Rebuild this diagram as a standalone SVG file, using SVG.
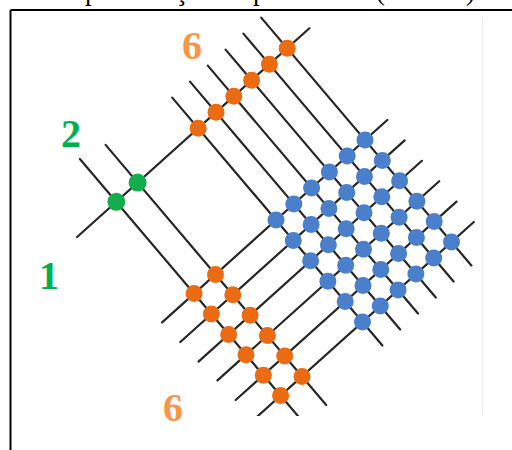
<svg xmlns="http://www.w3.org/2000/svg" width="512" height="450" viewBox="0 0 512 450">
<defs>
<style>
.ln{stroke:#262626;stroke-width:2.2;stroke-linecap:round;fill:none}
.b{fill:#4a7fcb}
.o{fill:#ea6b12}
.g{fill:#14ad4b}
.b circle,.o circle{r:8.5px}
.lab{font-family:"Liberation Serif","Times New Roman",serif;font-weight:bold;font-size:40px;text-anchor:middle}
.title{font-family:"Liberation Serif","Times New Roman",serif;font-size:27px}
</style>
<clipPath id="pic"><rect x="12" y="12" width="470" height="404"/></clipPath>
</defs>
<rect width="512" height="450" fill="#fff"/>
<text class="title" x="55" y="-0.5">Representação do produto de (16 x 26)</text>
<path d="M10.5,10 H512 M10.5,10 V450" stroke="#000" stroke-width="2" fill="none"/>
<line x1="482.5" y1="18" x2="482.5" y2="415" stroke="#ececec" stroke-width="1"/>
<g id="connectors" clip-path="url(#pic)">
<line class="ln" x1="77.1" y1="237" x2="309.4" y2="28.2"/>
<line class="ln" x1="162.1" y1="322.4" x2="387.3" y2="120"/>
<line class="ln" x1="180.3" y1="342" x2="404.6" y2="140.4"/>
<line class="ln" x1="198.5" y1="361.6" x2="421.9" y2="160.8"/>
<line class="ln" x1="217.5" y1="380.4" x2="439.2" y2="181.2"/>
<line class="ln" x1="235.7" y1="400" x2="456.5" y2="201.6"/>
<line class="ln" x1="253.9" y1="419.6" x2="473.8" y2="222"/>
<line class="ln" x1="79.9" y1="159" x2="306.6" y2="426.2"/>
<line class="ln" x1="105.6" y1="144.9" x2="326.2" y2="405"/>
<line class="ln" x1="172.2" y1="97.6" x2="382.4" y2="345.5"/>
<line class="ln" x1="190" y1="81.6" x2="400.2" y2="329.5"/>
<line class="ln" x1="207.8" y1="65.6" x2="418" y2="313.5"/>
<line class="ln" x1="225.6" y1="49.6" x2="435.8" y2="297.5"/>
<line class="ln" x1="243.4" y1="33.6" x2="453.6" y2="281.5"/>
<line class="ln" x1="261.2" y1="17.6" x2="471.4" y2="265.5"/>
</g>
<g id="green-dots" class="g">
<circle cx="116.3" cy="201.8" r="9"/>
<circle cx="137.6" cy="182.6" r="9"/>
</g>
<g id="top-orange" class="o">
<circle cx="198.2" cy="128.2" r="8.5"/>
<circle cx="216" cy="112.2" r="8.5"/>
<circle cx="233.8" cy="96.2" r="8.5"/>
<circle cx="251.6" cy="80.2" r="8.5"/>
<circle cx="269.4" cy="64.2" r="8.5"/>
<circle cx="287.2" cy="48.2" r="8.5"/>
</g>
<g id="bottom-orange" class="o">
<circle cx="194.1" cy="293.6" r="8.5"/>
<circle cx="211.4" cy="314" r="8.5"/>
<circle cx="228.7" cy="334.4" r="8.5"/>
<circle cx="246" cy="354.8" r="8.5"/>
<circle cx="263.3" cy="375.2" r="8.5"/>
<circle cx="280.6" cy="395.6" r="8.5"/>
<circle cx="215.5" cy="274.4" r="8.5"/>
<circle cx="232.8" cy="294.8" r="8.5"/>
<circle cx="250.1" cy="315.2" r="8.5"/>
<circle cx="267.4" cy="335.6" r="8.5"/>
<circle cx="284.7" cy="356" r="8.5"/>
<circle cx="302" cy="376.4" r="8.5"/>
</g>
<g id="blue-dots" class="b">
<circle cx="276" cy="220" r="8.5"/><circle cx="293.3" cy="240.4" r="8.5"/><circle cx="310.6" cy="260.8" r="8.5"/><circle cx="327.9" cy="281.2" r="8.5"/><circle cx="345.2" cy="301.6" r="8.5"/><circle cx="362.5" cy="322" r="8.5"/>
<circle cx="293.8" cy="204" r="8.5"/><circle cx="311.1" cy="224.4" r="8.5"/><circle cx="328.4" cy="244.8" r="8.5"/><circle cx="345.7" cy="265.2" r="8.5"/><circle cx="363" cy="285.6" r="8.5"/><circle cx="380.3" cy="306" r="8.5"/>
<circle cx="311.6" cy="188" r="8.5"/><circle cx="328.9" cy="208.4" r="8.5"/><circle cx="346.2" cy="228.8" r="8.5"/><circle cx="363.5" cy="249.2" r="8.5"/><circle cx="380.8" cy="269.6" r="8.5"/><circle cx="398.1" cy="290" r="8.5"/>
<circle cx="329.4" cy="172" r="8.5"/><circle cx="346.7" cy="192.4" r="8.5"/><circle cx="364" cy="212.8" r="8.5"/><circle cx="381.3" cy="233.2" r="8.5"/><circle cx="398.6" cy="253.6" r="8.5"/><circle cx="415.9" cy="274" r="8.5"/>
<circle cx="347.2" cy="156" r="8.5"/><circle cx="364.5" cy="176.4" r="8.5"/><circle cx="381.8" cy="196.8" r="8.5"/><circle cx="399.1" cy="217.2" r="8.5"/><circle cx="416.4" cy="237.6" r="8.5"/><circle cx="433.7" cy="258" r="8.5"/>
<circle cx="365" cy="140" r="8.5"/><circle cx="382.3" cy="160.4" r="8.5"/><circle cx="399.6" cy="180.8" r="8.5"/><circle cx="416.9" cy="201.2" r="8.5"/><circle cx="434.2" cy="221.6" r="8.5"/><circle cx="451.5" cy="242" r="8.5"/>
</g>
<g id="labels" class="lab">
<text x="192" y="59" fill="#f79646">6</text>
<text x="71" y="147" fill="#00b050">2</text>
<text x="49" y="289" fill="#00b050">1</text>
<text x="173" y="421" fill="#f79646">6</text>
</g>
</svg>
